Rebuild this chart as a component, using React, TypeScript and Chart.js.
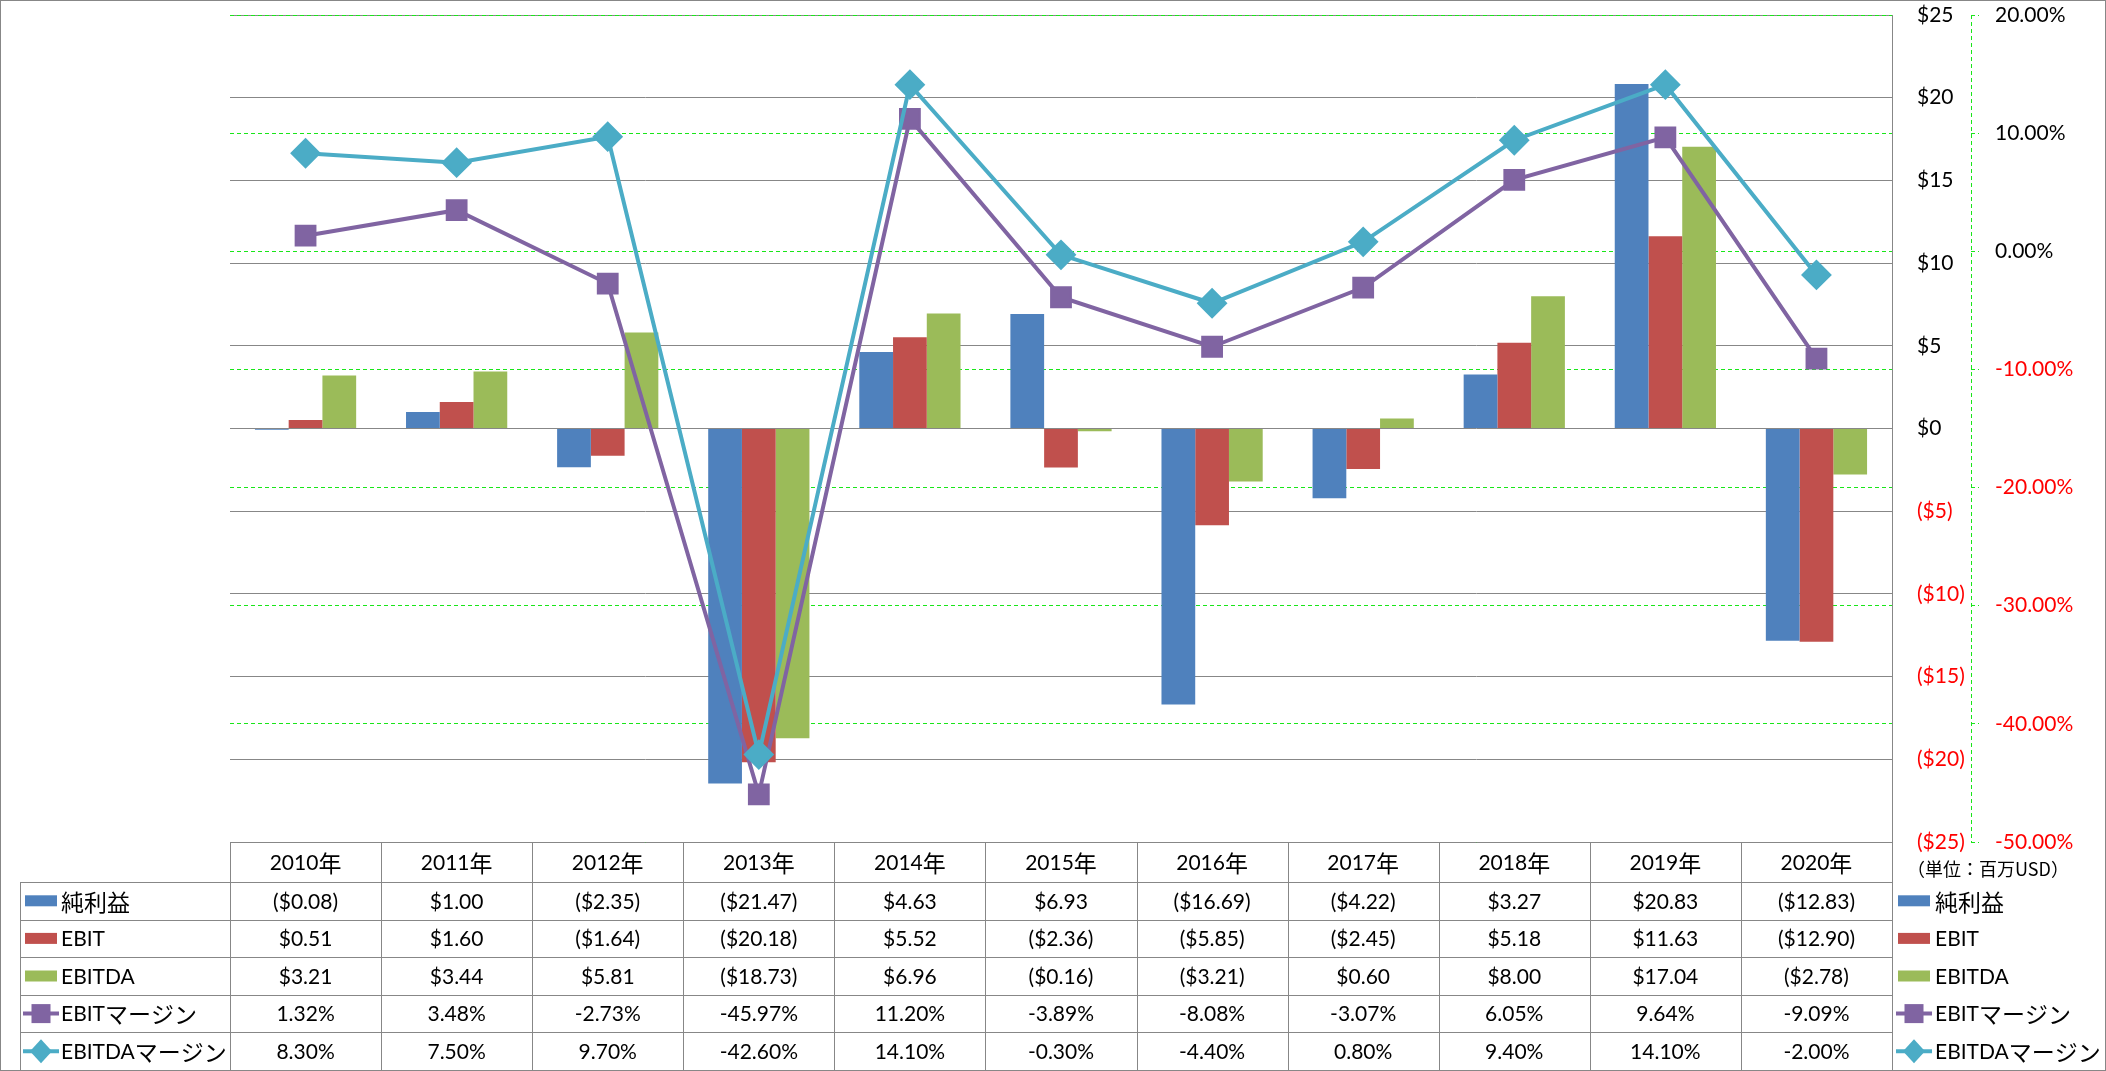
import React, { useEffect, useRef } from 'react';
import { Chart, registerables } from 'chart.js';

Chart.register(...registerables);

// ---------- data ----------
const categories = ['2010年', '2011年', '2012年', '2013年', '2014年', '2015年', '2016年', '2017年', '2018年', '2019年', '2020年'];
const seriesNames = ['純利益', 'EBIT', 'EBITDA', 'EBITマージン', 'EBITDAマージン'];
const netIncome = [-0.08, 1.0, -2.35, -21.47, 4.63, 6.93, -16.69, -4.22, 3.27, 20.83, -12.83];
const ebit = [0.51, 1.6, -1.64, -20.18, 5.52, -2.36, -5.85, -2.45, 5.18, 11.63, -12.9];
const ebitda = [3.21, 3.44, 5.81, -18.73, 6.96, -0.16, -3.21, 0.6, 8.0, 17.04, -2.78];
const ebitMargin = [1.32, 3.48, -2.73, -45.97, 11.2, -3.89, -8.08, -3.07, 6.05, 9.64, -9.09];
const ebitdaMargin = [8.3, 7.5, 9.7, -42.6, 14.1, -0.3, -4.4, 0.8, 9.4, 14.1, -2.0];
const unitLabel = '（単位：百万USD）';

const W = 2106;
const H = 1071;
const FONT = "Lato, 'Noto Sans CJK JP', sans-serif";
const LATIN_FONT = '21px Lato, sans-serif';
const CJK_FONT = "23px 'Noto Sans CJK JP', sans-serif";
const GRID = '#878787';
const GREEN = '#19e619';
const BLUE = '#4F81BD';
const RED = '#C0504D';
const OLIVE = '#9BBB59';
const PURPLE = '#8064A2';
const CYAN = '#4BACC6';
const NEG = '#ff0000';

const money = (v: number) => (v < 0 ? `($${(-v).toFixed(2)})` : `$${v.toFixed(2)}`);
const moneyTick = (v: number) => (v < 0 ? `($${-v})` : `$${v}`);
const pct = (v: number) => `${v.toFixed(2)}%`;

type KeyKind = { kind: 'bar' | 'square' | 'diamond'; color: string };
const keys: KeyKind[] = [
  { kind: 'bar', color: BLUE },
  { kind: 'bar', color: RED },
  { kind: 'bar', color: OLIVE },
  { kind: 'square', color: PURPLE },
  { kind: 'diamond', color: CYAN },
];

// draw text whose ASCII runs use the Latin font and other runs the CJK font
function fillMixed(ctx: CanvasRenderingContext2D, text: string, x: number, y: number, align: 'left' | 'center') {
  const runs: { t: string; cjk: boolean }[] = [];
  for (const ch of text) {
    const cjk = ch.charCodeAt(0) > 255;
    const last = runs[runs.length - 1];
    if (last && last.cjk === cjk) last.t += ch;
    else runs.push({ t: ch, cjk });
  }
  let total = 0;
  const widths = runs.map((r) => {
    ctx.font = r.cjk ? CJK_FONT : LATIN_FONT;
    const w = ctx.measureText(r.t).width;
    total += w;
    return w;
  });
  let cx = align === 'center' ? x - total / 2 : x;
  ctx.textAlign = 'left';
  runs.forEach((r, i) => {
    ctx.font = r.cjk ? CJK_FONT : LATIN_FONT;
    ctx.fillText(r.t, cx, y);
    cx += widths[i];
  });
}

function drawKey(ctx: CanvasRenderingContext2D, k: KeyKind, x: number, y: number) {
  ctx.save();
  ctx.fillStyle = k.color;
  ctx.strokeStyle = k.color;
  if (k.kind === 'bar') {
    ctx.fillRect(x + 1, y - 5.5, 32, 11);
  } else {
    ctx.lineWidth = 4;
    ctx.beginPath();
    ctx.moveTo(x - 1, y);
    ctx.lineTo(x + 35, y);
    ctx.stroke();
    const cx = x + 17;
    if (k.kind === 'square') {
      ctx.fillRect(cx - 9.5, y - 9.5, 19, 19);
    } else {
      ctx.beginPath();
      ctx.moveTo(cx, y - 12);
      ctx.lineTo(cx + 11, y);
      ctx.lineTo(cx, y + 12);
      ctx.lineTo(cx - 11, y);
      ctx.closePath();
      ctx.fill();
    }
  }
  ctx.restore();
}

const decorPlugin = {
  id: 'decor',
  afterDraw(chart: any) {
    const ctx: CanvasRenderingContext2D = chart.ctx;
    const area = chart.chartArea;
    const xs = chart.scales.x;
    const y1 = chart.scales.y1;
    const n = categories.length;
    const colW = (area.right - area.left) / n;
    const headTop = Math.round(area.bottom);
    const headBottom = headTop + 40;
    const tableBottom = H - 1;
    const rowH = (tableBottom - headBottom) / 5;
    const legendLeft = 20;
    const px = (v: number) => Math.round(v) + 0.5;

    ctx.save();
    // secondary axis dashed line
    ctx.strokeStyle = GREEN;
    ctx.lineWidth = 1;
    ctx.setLineDash([4, 3]);
    ctx.beginPath();
    ctx.moveTo(px(y1.left), y1.top);
    ctx.lineTo(px(y1.left), y1.bottom);
    ctx.stroke();
    ctx.setLineDash([]);

    // table lines
    ctx.strokeStyle = GRID;
    ctx.lineWidth = 1;
    ctx.beginPath();
    ctx.moveTo(area.left, px(headTop));
    ctx.lineTo(area.right, px(headTop));
    for (let r = 0; r <= 5; r++) {
      const yy = px(headBottom + r * rowH);
      ctx.moveTo(legendLeft, yy);
      ctx.lineTo(area.right, yy);
    }
    for (let i = 0; i <= n; i++) {
      const xx = px(area.left + i * colW);
      ctx.moveTo(xx, headTop);
      ctx.lineTo(xx, tableBottom);
    }
    ctx.moveTo(px(legendLeft), headBottom);
    ctx.lineTo(px(legendLeft), tableBottom);
    ctx.stroke();

    // outer frame
    ctx.strokeRect(0.5, 0.5, W - 1, H - 1);

    // table text
    ctx.fillStyle = '#000';
    ctx.textBaseline = 'middle';
    const rows: string[][] = [
      netIncome.map(money),
      ebit.map(money),
      ebitda.map(money),
      ebitMargin.map(pct),
      ebitdaMargin.map(pct),
    ];
    categories.forEach((c, i) => {
      fillMixed(ctx, c, xs.getPixelForValue(i), (headTop + headBottom) / 2 + 1, 'center');
    });
    rows.forEach((row, r) => {
      const cy = headBottom + (r + 0.5) * rowH + 1;
      row.forEach((t, i) => fillMixed(ctx, t, xs.getPixelForValue(i), cy, 'center'));
    });

    // legends (left in table, right beside)
    seriesNames.forEach((name, r) => {
      const cy = headBottom + (r + 0.5) * rowH;
      drawKey(ctx, keys[r], 24, cy);
      ctx.fillStyle = '#000';
      fillMixed(ctx, name, 61, cy + 1, 'left');
      drawKey(ctx, keys[r], 1897, cy);
      ctx.fillStyle = '#000';
      fillMixed(ctx, name, 1935, cy + 1, 'left');
    });

    ctx.font = `18px 'Noto Sans CJK JP', sans-serif`;
    ctx.textAlign = 'center';
    ctx.fillText(unitLabel, 1988, 869);
    ctx.restore();
  },
};

export default function App() {
  const ref = useRef<HTMLCanvasElement>(null);

  useEffect(() => {
    document.body.style.margin = '0';
    const canvas = ref.current!;
    const tickFont = { family: FONT, size: 21 };
    const chart = new Chart(canvas, {
      type: 'bar',
      data: {
        labels: categories,
        datasets: [
          { type: 'bar', label: seriesNames[0], data: netIncome, backgroundColor: BLUE, yAxisID: 'y', order: 3, categoryPercentage: 0.67, barPercentage: 1 },
          { type: 'bar', label: seriesNames[1], data: ebit, backgroundColor: RED, yAxisID: 'y', order: 3, categoryPercentage: 0.67, barPercentage: 1 },
          { type: 'bar', label: seriesNames[2], data: ebitda, backgroundColor: OLIVE, yAxisID: 'y', order: 3, categoryPercentage: 0.67, barPercentage: 1 },
          {
            type: 'line', label: seriesNames[3], data: ebitMargin, yAxisID: 'y1', order: 1,
            borderColor: PURPLE, backgroundColor: PURPLE, borderWidth: 4, tension: 0,
            pointStyle: 'rect', pointRadius: 14, pointBorderWidth: 2,
            pointBackgroundColor: PURPLE, pointBorderColor: PURPLE,
          },
          {
            type: 'line', label: seriesNames[4], data: ebitdaMargin, yAxisID: 'y1', order: 0,
            borderColor: CYAN, backgroundColor: CYAN, borderWidth: 4, tension: 0,
            pointStyle: 'rectRot', pointRadius: 14, pointBorderWidth: 2,
            pointBackgroundColor: CYAN, pointBorderColor: CYAN,
          },
        ] as any,
      },
      options: {
        responsive: false,
        animation: false,
        devicePixelRatio: 1,
        layout: { autoPadding: false, padding: { left: 230, right: 15, top: 15, bottom: 229 } },
        plugins: { legend: { display: false }, tooltip: { enabled: false } },
        scales: {
          x: { display: false, offset: true },
          y: {
            position: 'right',
            weight: 0,
            min: -25,
            max: 25,
            ticks: {
              stepSize: 5,
              padding: 25,
              font: tickFont,
              color: (c: any) => (c.tick.value < 0 ? NEG : '#000'),
              callback: (v: any) => moneyTick(Number(v)),
            },
            grid: { color: GRID, lineWidth: 1, drawTicks: false },
            border: { display: true, color: GRID, width: 1 },
            afterFit: (s: any) => { s.width = 79; s.paddingTop = 0; s.paddingBottom = 0; },
          },
          y1: {
            position: 'right',
            weight: 1,
            min: -50,
            max: 20,
            ticks: {
              stepSize: 10,
              padding: 16,
              font: tickFont,
              color: (c: any) => (c.tick.value < 0 ? NEG : '#000'),
              callback: (v: any) => pct(Number(v)),
            },
            grid: {
              color: GREEN, lineWidth: 1, drawTicks: true, tickLength: 8,
              tickColor: GREEN, tickBorderDash: [4, 3],
            },
            border: { display: false, dash: [4, 3] },
            afterFit: (s: any) => { s.width = 120; s.paddingTop = 0; s.paddingBottom = 0; },
          },
        } as any,
      },
      plugins: [decorPlugin],
    });
    return () => chart.destroy();
  }, []);

  return (
    <div style={{ position: 'fixed', left: 0, top: 0, width: W, height: H, background: '#fff' }}>
      <canvas ref={ref} width={W} height={H} style={{ width: W, height: H, display: 'block' }} />
    </div>
  );
}
